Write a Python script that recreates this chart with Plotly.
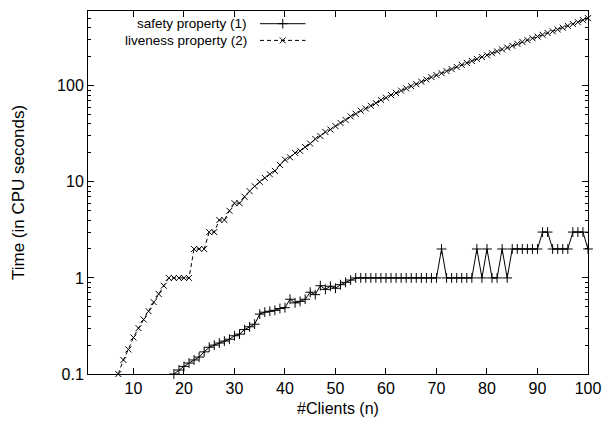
import plotly.graph_objects as go

# ---- data ----
live_n = list(range(7, 101))
live_t = [0.1, 0.14, 0.18, 0.24, 0.3, 0.37, 0.45, 0.56, 0.68, 0.83,      # 7-16
          1, 1, 1, 1, 1, 2, 2, 2, 3, 3,                                  # 17-26
          4, 4, 5, 6, 6, 7, 8, 9, 10, 11,                                # 27-36
          12, 13, 15, 17, 18, 20, 21, 23, 25, 28,                        # 37-46
          30, 33, 35, 38, 41, 44, 48, 51, 55, 58,                        # 47-56
          62, 66, 71, 75, 80, 84, 89, 94, 99, 104,                       # 57-66
          110, 116, 123, 129, 135, 142, 149, 157, 165, 173,              # 67-76
          181, 190, 199, 208, 218, 228, 239, 250, 261, 273,              # 77-86
          286, 299, 312, 325, 339, 354, 369, 385, 402, 420,              # 87-96
          439, 459, 482, 505]                                            # 97-100

safe_n = list(range(18, 101))
safe_t = [0.1, 0.11, 0.12, 0.13, 0.14, 0.15, 0.17, 0.19, 0.2, 0.21,      # 18-27
          0.22, 0.23, 0.25, 0.26, 0.29, 0.31, 0.33, 0.42, 0.44, 0.45,    # 28-37
          0.46, 0.48, 0.49, 0.6, 0.55, 0.57, 0.6, 0.71, 0.67, 0.83,      # 38-47
          0.76, 0.82, 0.78, 0.85, 0.9, 0.95, 1, 1, 1, 1,                 # 48-57
          1, 1, 1, 1, 1, 1, 1, 1, 1, 1,                                  # 58-67
          1, 1, 1, 2, 1, 1, 1, 1, 1, 1,                                  # 68-77
          2, 1, 2, 1, 1, 2, 1, 2, 2, 2,                                  # 78-87
          2, 2, 2, 3, 3, 2, 2, 2, 2, 3,                                  # 88-97
          3, 3, 2]                                                       # 98-100

series_names = ["safety property (1)", "liveness property (2)"]
x_ticks = [10, 20, 30, 40, 50, 60, 70, 80, 90, 100]
y_ticks = [0.1, 1, 10, 100]
y_ticktext = ["0.1", "1", "10", "100"]
y_minor = [m * d for d in (0.1, 1, 10, 100) for m in range(2, 10) if m * d <= 600]

FONT = "Liberation Sans, Arial, sans-serif"
FS = 16

fig = go.Figure()
fig.add_trace(go.Scatter(
    x=safe_n, y=safe_t, mode="lines+markers", name=series_names[0],
    line=dict(color="black", width=1),
    marker=dict(symbol="cross-thin", size=7, line=dict(color="black", width=1)),
    showlegend=False, cliponaxis=False))
fig.add_trace(go.Scatter(
    x=live_n, y=live_t, mode="lines+markers", name=series_names[1],
    line=dict(color="black", width=1, dash="4px,3px"),
    marker=dict(symbol="x-thin", size=6, line=dict(color="black", width=1)),
    showlegend=False, cliponaxis=False))

# ---- gnuplot-style key (text, then sample) ----
key_x0, key_x1 = 0.344, 0.435
key_rows = [0.965, 0.919]
key_styles = [("solid", "cross-thin", 7), ("4px,3px", "x-thin", 6)]
for name, ry, (dash, sym, sz) in zip(series_names, key_rows, key_styles):
    fig.add_trace(go.Scatter(
        x=[key_x0, key_x1], y=[ry, ry], xaxis="x2", yaxis="y2", mode="lines",
        line=dict(color="black", width=1, dash=dash), showlegend=False, hoverinfo="skip"))
    fig.add_trace(go.Scatter(
        x=[(key_x0 + key_x1) / 2], y=[ry], xaxis="x2", yaxis="y2", mode="markers",
        marker=dict(symbol=sym, size=sz, line=dict(color="black", width=1)),
        showlegend=False, hoverinfo="skip"))
    fig.add_annotation(x=0.321, y=ry, xref="paper", yref="paper", text=name,
                       showarrow=False, xanchor="right", yanchor="middle",
                       font=dict(family=FONT, size=13.5, color="black"))

axis_common = dict(showline=True, linecolor="black", linewidth=1, mirror="ticks",
                   ticks="inside", ticklen=6, tickwidth=1, tickcolor="black",
                   showgrid=False, zeroline=False,
                   tickfont=dict(family=FONT, size=FS, color="black"))

fig.update_layout(
    width=611, height=429,
    margin=dict(l=88, r=17, t=10, b=55),
    paper_bgcolor="white", plot_bgcolor="white",
    font=dict(family=FONT, size=FS, color="black"),
    xaxis=dict(range=[1, 100], tickvals=x_ticks,
               title=dict(text="#Clients (n)", font=dict(family=FONT, size=FS), standoff=6),
               **axis_common),
    yaxis=dict(type="log", range=[-1, 2.778], tickvals=y_ticks, ticktext=y_ticktext,
               minor=dict(tickvals=y_minor, ticks="inside", ticklen=3, tickcolor="black", showgrid=False),
               title=dict(text="Time (in CPU seconds)", font=dict(family=FONT, size=17), standoff=28),
               **axis_common),
    xaxis2=dict(range=[0, 1], overlaying="x", visible=False),
    yaxis2=dict(range=[0, 1], overlaying="y", visible=False),
)

fig.write_html("out.html", config={"displayModeBar": False},
               post_script="document.body.style.margin='0';document.body.style.overflow='hidden';")
